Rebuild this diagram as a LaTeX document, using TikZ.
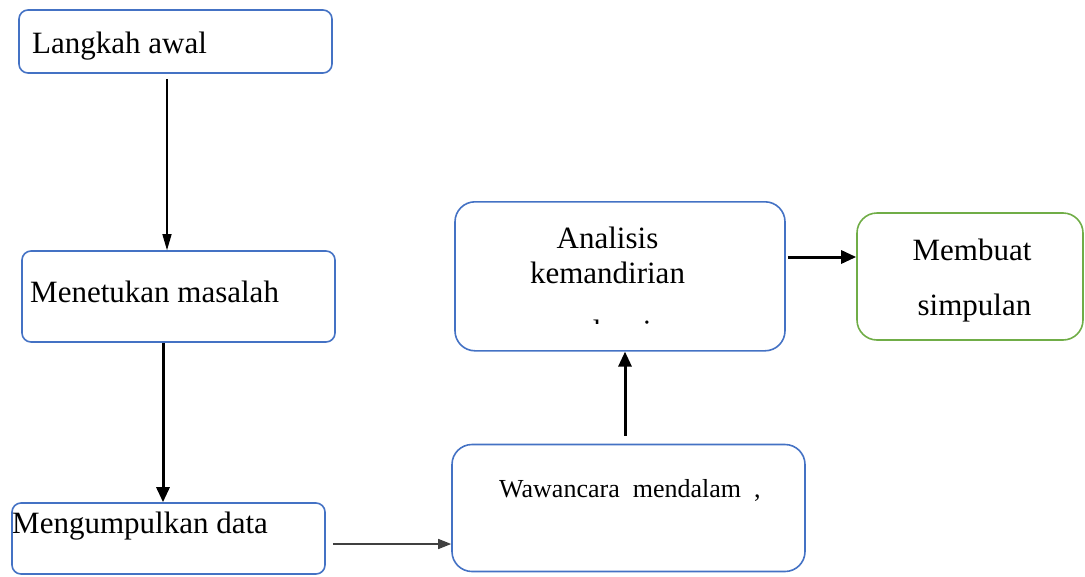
\documentclass[tikz,border=0pt]{standalone}
\usepackage{fontspec}
\setmainfont{Liberation Serif}
\usetikzlibrary{arrows.meta,calc}
\definecolor{boxblue}{RGB}{68,114,196}
\definecolor{boxgreen}{RGB}{112,173,71}
\definecolor{arrgray}{RGB}{64,64,64}

\begin{document}
\begin{tikzpicture}[x=1pt,y=-1pt,
    box/.style={draw=boxblue,line width=1.6pt,rounded corners=#1,inner sep=0pt},
    box/.default=9pt,
    lbl/.style={anchor=base west,inner sep=0pt,font=\fontsize{31}{37}\selectfont},
    mid/.style={anchor=base,inner sep=0pt,font=\fontsize{31}{37}\selectfont},
    thinarr/.style={-{Triangle[length=16pt,width=9pt]},line width=1.3pt},
    thickarr/.style={-{Triangle[length=15pt,width=13pt]},line width=3pt}]
  \useasboundingbox (0,0) rectangle (1085,576);

  % Boxes
  \node[box,minimum width=313pt,minimum height=63pt] (awal) at (175.5,41.5) {};
  \node[box,minimum width=313pt,minimum height=91pt] (masalah) at (178.5,296.5) {};
  \node[box,minimum width=313pt,minimum height=71pt] (data) at (168.5,538.5) {};
  \node[box=20pt,minimum width=353pt,minimum height=127pt] (wawancara) at (628.5,508) {};
  \node[box=20pt,minimum width=330pt,minimum height=149pt] (analisis) at (620,276.3) {};
  \node[box=20pt,draw=boxgreen,minimum width=226pt,minimum height=127pt] (simpulan) at (970,276.5) {};

  % Texts
  \node[lbl] (tawal) at (32,53) {Langkah awal};
  \node[lbl] (tmasalah) at (30,302) {Menetukan masalah};
  \node[lbl] (tdata) at (12,533) {Mengumpulkan data};
  \node[lbl,font=\fontsize{26}{31}\selectfont] (twawancara) at (499,497)
    {Wawancara\enspace mendalam\enspace,};
  \node[mid] (tanalisis) at (607.5,248) {Analisis};
  \node[mid] (tkemandirian) at (607.5,283) {kemandirian};
  \begin{scope}
    \clip (455,300) rectangle (785,323.5);
    \node[mid] (tlansia) at (629,341) {lansia};
  \end{scope}
  \node[mid] (tmembuat) at (972,260) {Membuat};
  \node[mid] (tsimpulan) at (974.5,315) {simpulan};

  % Arrows
  \draw[thinarr] ([xshift=-8.5pt,yshift=-5pt]awal.south) coordinate (a1)
    -- (a1 |- masalah.north);
  \draw[thickarr] ([xshift=-15.5pt]masalah.south) coordinate (b1)
    -- (b1 |- data.north);
  \draw[-{Triangle[length=13pt,width=10pt]},line width=1.5pt,arrgray]
    ([xshift=7pt,yshift=-5.5pt]data.east) coordinate (c1)
    -- (c1 -| wawancara.west);
  \draw[thickarr] ([xshift=-3.5pt,yshift=8pt]wawancara.north) coordinate (d1)
    -- (d1 |- analisis.south);
  \draw[thickarr] ([xshift=2pt,yshift=19.3pt]analisis.east) coordinate (e1)
    -- (e1 -| simpulan.west);
\end{tikzpicture}
\end{document}
